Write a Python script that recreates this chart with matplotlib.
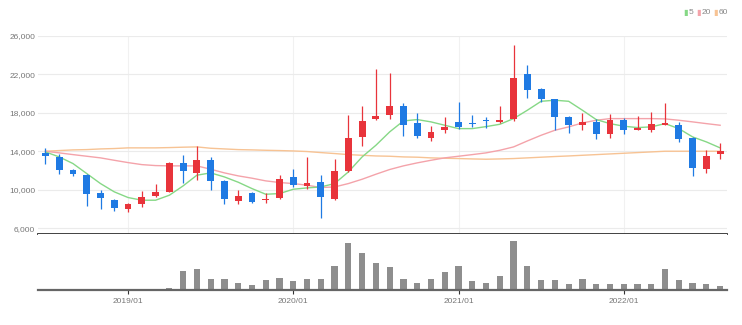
import numpy as np
import pandas as pd
import matplotlib
matplotlib.use("Agg")
import matplotlib.pyplot as plt
from matplotlib.ticker import FuncFormatter

plt.rcParams['font.family'] = ['Liberation Sans Narrow', 'Liberation Sans', 'DejaVu Sans']

# monthly candles, 2018/07 .. 2022/08
months = [p.strftime('%Y/%m') for p in pd.period_range('2018-07', periods=50, freq='M')]

opens = [13800, 13400, 12030, 11500, 9670, 8910, 8010, 8560, 9330, 9770,
         12750, 11780, 13060, 10900, 8870, 9640, 8910, 9150, 11370, 10360,
         10850, 9050, 11990, 15520, 17320, 17770, 18680, 16940, 15420, 16180,
         17010, 16980, 17290, 17050, 17320, 22030, 20440, 19400, 17530, 16700,
         17050, 15770, 17220, 16180, 16180, 16770, 16770, 15420, 12130, 13690]
highs = [14350, 13760, 12130, 11650, 9980, 9010, 8600, 9840, 10600, 12930,
         13580, 14550, 13410, 10990, 10020, 9770, 9670, 11510, 12160, 13410,
         11510, 13240, 17810, 18740, 22590, 22140, 19060, 18020, 16600, 17570,
         19130, 17810, 17570, 18740, 25080, 23000, 20550, 19440, 17710, 17980,
         17360, 17880, 17500, 17670, 18120, 19060, 17010, 15490, 14140, 14870]
lows = [12700, 11610, 11440, 8290, 8040, 7800, 7730, 8220, 9250, 9770,
        10710, 10990, 10020, 8560, 8560, 8630, 8630, 9080, 10290, 10120,
        7110, 8980, 11850, 14590, 17290, 17360, 15630, 15350, 15070, 15900,
        16290, 16530, 16460, 16980, 17150, 19540, 19160, 16180, 15940, 16250,
        15250, 15350, 15800, 16180, 16040, 16700, 15000, 11400, 11780, 13200]
closes = [13500, 12100, 11610, 9530, 9120, 8080, 8490, 9250, 9770, 12820,
          11960, 13130, 10880, 9000, 9360, 8740, 9080, 11130, 10540, 10740,
          9220, 11990, 15420, 17190, 17700, 18710, 16770, 15590, 16010, 16560,
          16530, 16840, 17150, 17290, 21620, 20410, 19440, 17570, 16770, 17010,
          15770, 17220, 16220, 16420, 16870, 16980, 15320, 12230, 13480, 14000]

volume = [10, 10, 10, 10, 15, 15, 15, 15, 15, 60,
          560, 620, 330, 330, 210, 130, 290, 350, 260, 330,
          310, 700, 1400, 1080, 780, 660, 330, 210, 310, 530,
          710, 260, 200, 400, 1460, 710, 290, 290, 160, 330,
          180, 180, 180, 160, 180, 600, 290, 210, 180, 110]

ma5 = [13930, 13410, 12720, 11680, 10640, 9780, 9190, 8910, 8910, 9430,
       10400, 11510, 11750, 11330, 10780, 10120, 9530, 9600, 10050, 10190,
       10290, 10640, 11850, 13410, 14620, 16010, 17150, 17290, 17050, 16700,
       16350, 16350, 16560, 16800, 17390, 18260, 19190, 19300, 19190, 18260,
       17290, 16870, 16600, 16460, 16530, 16870, 16350, 15490, 14970, 14350]
ma20 = [14000, 13830, 13650, 13480, 13310, 13060, 12820, 12610, 12510, 12480,
        12480, 12480, 12130, 11750, 11440, 11200, 10920, 10750, 10640, 10470,
        10230, 10290, 10640, 11090, 11610, 12100, 12480, 12790, 13060, 13310,
        13480, 13650, 13830, 14100, 14450, 15070, 15660, 16180, 16530, 16940,
        17220, 17390, 17390, 17390, 17390, 17360, 17220, 17050, 16870, 16700]
ma60 = [14000, 14070, 14140, 14170, 14240, 14280, 14350, 14350, 14350, 14380,
        14420, 14450, 14310, 14240, 14170, 14140, 14100, 14070, 14030, 13970,
        13860, 13760, 13650, 13580, 13510, 13480, 13410, 13380, 13310, 13270,
        13240, 13200, 13170, 13200, 13240, 13310, 13380, 13450, 13510, 13580,
        13650, 13720, 13790, 13860, 13930, 14000, 14000, 14000, 14000, 14000]

ma_labels = ['5', '20', '60']
ma_colors = ['#86d886', '#f4a3aa', '#f7c394']
up_color = '#e8343b'
down_color = '#1f7ae3'

x = np.arange(len(months))
o = np.array(opens)
c = np.array(closes)
colors = [up_color if cc >= oo else down_color for oo, cc in zip(o, c)]

fig = plt.figure(figsize=(7.42, 3.25), dpi=100)
ax = fig.add_axes([0.0512, 0.280, 0.9286, 0.610])
axv = fig.add_axes([0.0512, 0.109, 0.9286, 0.171], sharex=ax)

# moving averages
for vals, col in zip([ma60, ma20, ma5], ma_colors[::-1]):
    ax.plot(x, vals, color=col, lw=1.0, zorder=2)

# candles
ax.vlines(x, lows, highs, colors=colors, lw=0.9, zorder=3)
body_lo = np.minimum(o, c)
body_h = np.maximum(np.abs(c - o), 130)
ax.bar(x, body_h, bottom=body_lo, width=0.5, color=colors, lw=0, zorder=4)

ax.set_xlim(-0.54, 49.5)
ax.set_ylim(5400, 26000)
ax.set_yticks(range(6000, 26001, 4000))
ax.yaxis.set_major_formatter(FuncFormatter(lambda v, p: f'{int(v):,}'))
ax.tick_params(axis='y', length=0, pad=2, labelsize=6, labelcolor='#777777')
ax.tick_params(axis='x', length=0, labelbottom=False)
ax.grid(axis='y', color='#ebebeb', lw=0.8)
year_ticks = [i for i, m in enumerate(months) if m.endswith('/01')]
for i in year_ticks:
    ax.axvline(i, color='#f1f1f1', lw=0.8, zorder=0)
for s in ['top', 'right', 'left']:
    ax.spines[s].set_visible(False)
ax.spines['bottom'].set_color('#333333')
ax.spines['bottom'].set_linewidth(1.3)

# volume
axv.bar(x, volume, width=0.45, color='#8e8e8e', lw=0)
axv.set_ylim(0, 1660)
axv.set_yticks([])
axv.set_xticks(year_ticks)
axv.set_xticklabels([months[i] for i in year_ticks])
axv.tick_params(axis='x', length=3, width=0.8, color='#333333', pad=3,
                labelsize=6, labelcolor='#777777')
for s in ['top', 'right', 'left']:
    axv.spines[s].set_visible(False)
axv.spines['bottom'].set_color('#666666')
axv.spines['bottom'].set_linewidth(1.6)

# legend
lx = 0.921
for lab, col in zip(ma_labels, ma_colors):
    fig.text(lx, 0.962, '\u25ae', color=col, fontsize=6, family='DejaVu Sans',
             va='center', ha='left')
    fig.text(lx + 0.007, 0.962, lab, color='#888888', fontsize=6, va='center', ha='left')
    lx += 0.007 + 0.0062 * len(lab) + 0.004

fig.savefig('out.png', dpi=100, facecolor='white')
